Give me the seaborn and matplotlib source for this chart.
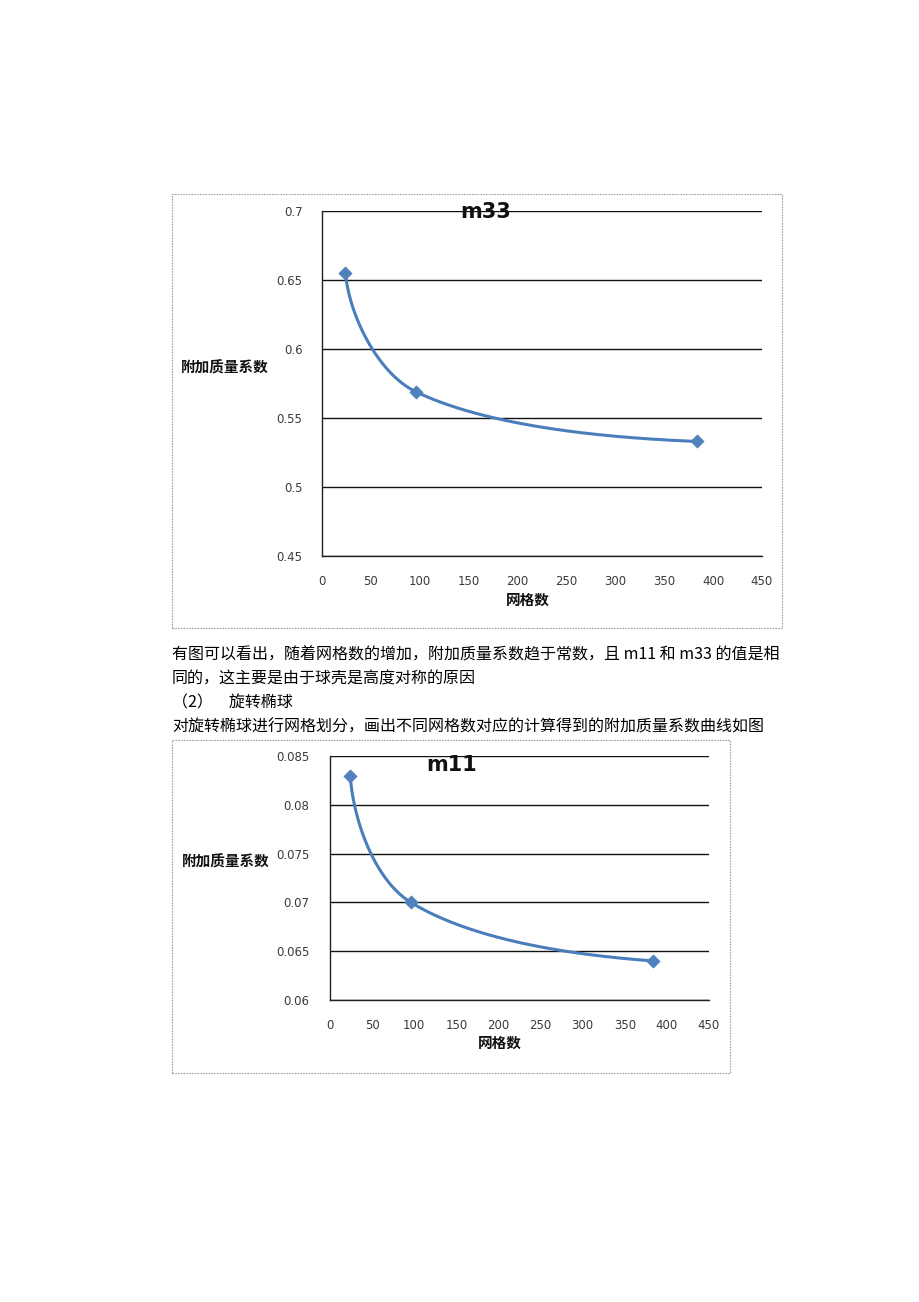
import numpy as np
import matplotlib
matplotlib.use("Agg")
import matplotlib.pyplot as plt
import seaborn as sns
from matplotlib.patches import Rectangle

# ---- data ----
grid_counts = [24, 96, 384]
m33_values = [0.655, 0.569, 0.533]
m11_values = [0.083, 0.070, 0.064]
x_ticks = [0, 50, 100, 150, 200, 250, 300, 350, 400, 450]
m33_ticks = [0.45, 0.5, 0.55, 0.6, 0.65, 0.7]
m11_ticks = [0.06, 0.065, 0.07, 0.075, 0.08, 0.085]
ylabel_text = "附加质量系数"
xlabel_text = "网格数"
para_lines = [
    "有图可以看出，随着网格数的增加，附加质量系数趋于常数，且 m11 和 m33 的值是相",
    "同的，这主要是由于球壳是高度对称的原因",
    "（2）　旋转椭球",
    "对旋转椭球进行网格划分，画出不同网格数对应的计算得到的附加质量系数曲线如图",
]

sns.set_theme(style="white")
plt.rcParams['font.family'] = ['Noto Sans CJK SC', 'DejaVu Sans']

W, H = 920, 1302
fig = plt.figure(figsize=(W / 100, H / 100), dpi=100)
fig.patch.set_facecolor("white")

LINE_C = "#4a7ebb"
MARK_C = "#4f81bd"


def px_rect(l, t, r, b):
    return [l / W, 1 - b / H, (r - l) / W, (b - t) / H]


def smooth_curve(ax, xs, ys, n=80):
    """Excel-like smoothed line through the data points (display-space Hermite)."""
    pts = ax.transData.transform(np.column_stack([xs, ys]))
    k = len(pts)
    L = np.linalg.norm(np.diff(pts, axis=0), axis=1)
    tin = np.zeros_like(pts)   # tangent at end of incoming segment
    tout = np.zeros_like(pts)  # tangent at start of outgoing segment
    for i in range(1, k - 1):
        m = (pts[i + 1] - pts[i - 1]) / 2
        tin[i] = m * 2 * L[i - 1] / (L[i - 1] + L[i])
        tout[i] = m
    d0 = pts[1] - pts[0]
    tout[0] = np.array([0.15 * d0[0], 1.05 * d0[1]])
    tin[-1] = 2 * (pts[-1] - pts[-2]) - tout[-2]
    out = []
    t = np.linspace(0, 1, n)
    h00 = 2 * t**3 - 3 * t**2 + 1
    h10 = t**3 - 2 * t**2 + t
    h01 = -2 * t**3 + 3 * t**2
    h11 = t**3 - t**2
    for i in range(k - 1):
        seg = (h00[:, None] * pts[i] + h10[:, None] * tout[i]
               + h01[:, None] * pts[i + 1] + h11[:, None] * tin[i + 1])
        out.append(seg)
    curve = np.vstack(out)
    data = ax.transData.inverted().transform(curve)
    return data[:, 0], data[:, 1]


def make_chart(rect, box, yvals, yticks, ylabs, title, title_xy, ylab_xy, xlab_xy, ypad, tweight):
    bl, bt, br, bb = box
    fig.patches.append(Rectangle((bl / W, 1 - bb / H), (br - bl) / W, (bb - bt) / H,
                                 transform=fig.transFigure, fill=False,
                                 edgecolor="#a0a0a0", linewidth=0.8,
                                 linestyle=(0, (1.5, 1))))
    ax = fig.add_axes(px_rect(*rect))
    ax.set_xlim(0, 450)
    ax.set_ylim(yticks[0], yticks[-1])
    ax.set_xticks(x_ticks)
    ax.set_yticks(yticks)
    ax.set_xticklabels([str(v) for v in x_ticks], family="DejaVu Sans", fontsize=8.5, color="#3a3a3a")
    ax.set_yticklabels(ylabs, family="DejaVu Sans", fontsize=8.5, color="#3a3a3a")
    for s in ["top", "right"]:
        ax.spines[s].set_visible(False)
    for s in ["left", "bottom"]:
        ax.spines[s].set_color("#222222")
        ax.spines[s].set_linewidth(1.0)
    ax.tick_params(axis="both", direction="out", length=5, width=1, color="#222222")
    ax.tick_params(axis="x", pad=9)
    ax.tick_params(axis="y", pad=ypad)
    ax.yaxis.grid(True, color="#111111", linewidth=1.0)
    ax.xaxis.grid(False)
    ax.set_axisbelow(True)
    fig.canvas.draw()
    cx, cy = smooth_curve(ax, grid_counts, yvals)
    sns.lineplot(x=cx, y=cy, ax=ax, color=LINE_C, linewidth=2.2, estimator=None, sort=False)
    sns.scatterplot(x=grid_counts, y=yvals, ax=ax, marker="D", s=45, color=MARK_C,
                    edgecolor=MARK_C, linewidth=0.5, zorder=5, clip_on=False)
    ax.set_xlabel("")
    ax.set_ylabel("")
    fig.text(title_xy[0] / W, 1 - title_xy[1] / H, title, family="DejaVu Sans",
             fontweight=tweight, fontsize=15, ha="center", va="center", color="#111111")
    fig.text(ylab_xy[0] / W, 1 - ylab_xy[1] / H, ylabel_text, fontweight="bold",
             fontsize=10.5, ha="center", va="center", color="#111111")
    fig.text(xlab_xy[0] / W, 1 - xlab_xy[1] / H, xlabel_text, fontweight="bold",
             fontsize=10.5, ha="center", va="center", color="#111111")
    return ax


make_chart((322, 211, 762, 556), (172, 194, 782, 628), m33_values, m33_ticks,
           ["0.45", "0.5", "0.55", "0.6", "0.65", "0.7"], "m33",
           (486, 212), (225, 368), (528, 600), 9, "bold")

make_chart((330, 756, 709, 1000), (172, 740, 730, 1073), m11_values, m11_ticks,
           ["0.06", "0.065", "0.07", "0.075", "0.08", "0.085"], "m11",
           (452, 765), (226, 862), (500, 1043), 10, "semibold")

for i, line in enumerate(para_lines):
    fig.text(172 / W, 1 - (655 + 24 * i) / H, line, fontsize=11.5,
             ha="left", va="center", color="#000000")

fig.savefig("out.png", dpi=100, facecolor="white")
